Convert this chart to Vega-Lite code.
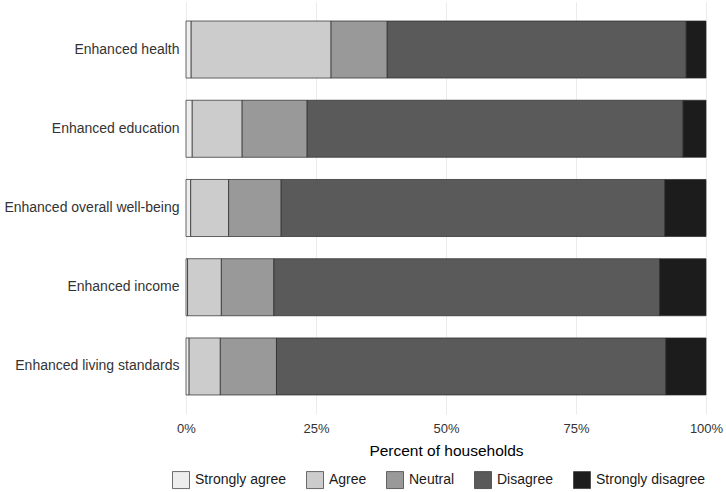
{
  "$schema": "https://vega.github.io/schema/vega-lite/v6.json",
  "width": 520,
  "height": 412,
  "autosize": {"type": "none"},
  "padding": {"left": 186, "top": 2, "right": 20, "bottom": 78},
  "background": "white",
  "config": {"font": "Liberation Sans", "view": {"stroke": null}},
  "data": {
    "values": [
      {"item": "Enhanced health", "response": "Strongly agree", "level": 1, "pct": 1.0},
      {"item": "Enhanced health", "response": "Agree", "level": 2, "pct": 26.9},
      {"item": "Enhanced health", "response": "Neutral", "level": 3, "pct": 10.8},
      {"item": "Enhanced health", "response": "Disagree", "level": 4, "pct": 57.5},
      {"item": "Enhanced health", "response": "Strongly disagree", "level": 5, "pct": 3.8},
      {"item": "Enhanced education", "response": "Strongly agree", "level": 1, "pct": 1.2},
      {"item": "Enhanced education", "response": "Agree", "level": 2, "pct": 9.6},
      {"item": "Enhanced education", "response": "Neutral", "level": 3, "pct": 12.5},
      {"item": "Enhanced education", "response": "Disagree", "level": 4, "pct": 72.3},
      {"item": "Enhanced education", "response": "Strongly disagree", "level": 5, "pct": 4.4},
      {"item": "Enhanced overall well-being", "response": "Strongly agree", "level": 1, "pct": 0.9},
      {"item": "Enhanced overall well-being", "response": "Agree", "level": 2, "pct": 7.3},
      {"item": "Enhanced overall well-being", "response": "Neutral", "level": 3, "pct": 10.1},
      {"item": "Enhanced overall well-being", "response": "Disagree", "level": 4, "pct": 73.8},
      {"item": "Enhanced overall well-being", "response": "Strongly disagree", "level": 5, "pct": 7.9},
      {"item": "Enhanced income", "response": "Strongly agree", "level": 1, "pct": 0.3},
      {"item": "Enhanced income", "response": "Agree", "level": 2, "pct": 6.5},
      {"item": "Enhanced income", "response": "Neutral", "level": 3, "pct": 10.1},
      {"item": "Enhanced income", "response": "Disagree", "level": 4, "pct": 74.2},
      {"item": "Enhanced income", "response": "Strongly disagree", "level": 5, "pct": 8.9},
      {"item": "Enhanced living standards", "response": "Strongly agree", "level": 1, "pct": 0.6},
      {"item": "Enhanced living standards", "response": "Agree", "level": 2, "pct": 6.0},
      {"item": "Enhanced living standards", "response": "Neutral", "level": 3, "pct": 10.8},
      {"item": "Enhanced living standards", "response": "Disagree", "level": 4, "pct": 74.9},
      {"item": "Enhanced living standards", "response": "Strongly disagree", "level": 5, "pct": 7.7}
    ]
  },
  "mark": {"type": "bar", "stroke": "#262626", "strokeWidth": 0.7},
  "encoding": {
    "y": {
      "field": "item",
      "type": "nominal",
      "sort": ["Enhanced health", "Enhanced education", "Enhanced overall well-being", "Enhanced income", "Enhanced living standards"],
      "scale": {"paddingInner": 0.28, "paddingOuter": 0.24},
      "axis": {
        "title": null,
        "ticks": false,
        "domain": false,
        "grid": false,
        "labelFontSize": 14,
        "labelColor": "#333333",
        "labelPadding": 7,
        "labelLimit": 300
      }
    },
    "x": {
      "field": "pct",
      "type": "quantitative",
      "stack": "zero",
      "scale": {"domain": [0, 100], "nice": false},
      "axis": {
        "values": [0, 25, 50, 75, 100],
        "labelExpr": "datum.value + '%'",
        "labelFlush": false,
        "title": "Percent of households",
        "titleFontSize": 15.5,
        "titleFontWeight": "normal",
        "titleColor": "#000000",
        "titlePadding": 8,
        "labelFontSize": 13,
        "labelColor": "#333333",
        "labelPadding": 8,
        "ticks": false,
        "domain": false,
        "grid": true,
        "gridColor": "#ebebeb",
        "gridWidth": 1
      }
    },
    "color": {
      "field": "response",
      "type": "nominal",
      "sort": ["Strongly agree", "Agree", "Neutral", "Disagree", "Strongly disagree"],
      "scale": {
        "domain": ["Strongly agree", "Agree", "Neutral", "Disagree", "Strongly disagree"],
        "range": ["#eeeeee", "#cccccc", "#999999", "#5a5a5a", "#1c1c1c"]
      },
      "legend": {
        "title": null,
        "orient": "none",
        "direction": "horizontal",
        "legendX": -14,
        "legendY": 469,
        "padding": 0,
        "symbolType": "square",
        "symbolSize": 289,
        "symbolStrokeColor": "#333333",
        "symbolStrokeWidth": 0.7,
        "symbolOpacity": 1,
        "labelFontSize": 14,
        "labelColor": "#1a1a1a",
        "labelOffset": 5,
        "columnPadding": 18,
        "labelLimit": 300
      }
    },
    "order": {"field": "level", "type": "quantitative"}
  }
}
